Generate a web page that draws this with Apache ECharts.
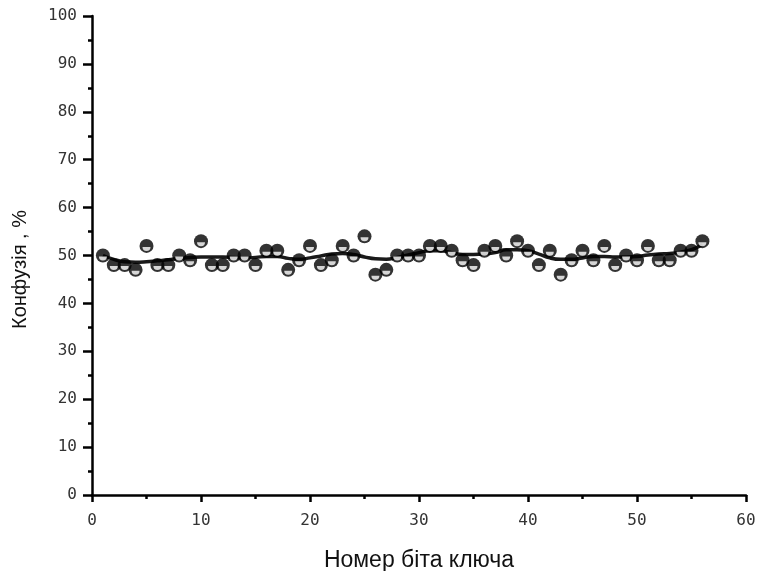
<!DOCTYPE html>
<html>
<head>
<meta charset="utf-8">
<script src="https://cdn.jsdelivr.net/npm/echarts@6/dist/echarts.min.js"></script>
<style>
  html, body { margin: 0; padding: 0; background: #fff; }
  #chart { width: 760px; height: 571px; }
</style>
</head>
<body>
<div id="chart"></div>
<script>
// measured confusion per key bit, and the smoothed trend drawn through it
var bitNumbers = [];
for (var b = 1; b <= 56; b++) bitNumbers.push(b);

var confusion = [50, 48, 48, 47, 52, 48, 48, 50, 49, 53,
                 48, 48, 50, 50, 48, 51, 51, 47, 49, 52,
                 48, 49, 52, 50, 54, 46, 47, 50, 50, 50,
                 52, 52, 51, 49, 48, 51, 52, 50, 53, 51,
                 48, 51, 46, 49, 51, 49, 52, 48, 50, 49,
                 52, 49, 49, 51, 51, 53];

var trend = [50, 49.2, 48.7, 48.6, 48.7, 48.9, 49.1, 49.4, 49.6, 49.7,
             49.7, 49.7, 49.6, 49.5, 49.6, 49.8, 49.8, 49.4, 49.2, 49.5,
             49.9, 50.3, 50.4, 50.2, 49.7, 49.3, 49.2, 49.6, 50.1, 50.6,
             51.0, 51.0, 50.6, 50.2, 50.2, 50.3, 50.6, 51.2, 51.2, 51.0,
             50.3, 49.5, 49.2, 49.2, 49.5, 49.8, 49.8, 49.7, 49.7, 49.8,
             50.1, 50.3, 50.4, 50.7, 51.2, 52.3];

function pairs(xs, ys) {
    return xs.map(function (x, i) { return [x, ys[i]]; });
}

// white half-disc drawn over each black marker (half-filled circle look)
var halfDisc = 'path://M0 0 A5 5 0 0 0 10 0 Z';

var tickFont = { fontFamily: 'DejaVu Sans Mono', fontSize: 16, color: '#333' };
var axisBlack = { color: '#000', width: 2.5 };

var chart = echarts.init(document.getElementById('chart'));

var option = {
    animation: false,
    backgroundColor: '#fff',
    grid: { left: 92, right: 14, top: 16, bottom: 76, outerBoundsMode: 'none' },
    xAxis: {
        type: 'value',
        min: 0,
        max: 60,
        interval: 10,
        name: 'Номер біта ключа',
        nameLocation: 'middle',
        nameGap: 54,
        nameTextStyle: { fontFamily: 'Liberation Sans', fontSize: 23, color: '#111' },
        axisLine: { lineStyle: axisBlack },
        axisTick: { length: 7, lineStyle: axisBlack },
        minorTick: { show: true, splitNumber: 2, length: 4, lineStyle: axisBlack },
        axisLabel: Object.assign({ margin: 18 }, tickFont),
        splitLine: { show: false }
    },
    yAxis: {
        type: 'value',
        min: 0,
        max: 100,
        interval: 10,
        name: 'Конфузія , %',
        nameLocation: 'middle',
        nameGap: 62,
        nameTextStyle: { fontFamily: 'Liberation Sans', fontSize: 20, color: '#111', padding: [0, 28, 0, 0] },
        axisLine: { show: true, lineStyle: axisBlack },
        axisTick: { show: true, length: 9, lineStyle: axisBlack },
        minorTick: { show: true, splitNumber: 2, length: 4, lineStyle: axisBlack },
        axisLabel: Object.assign({ margin: 15 }, tickFont),
        splitLine: { show: false }
    },
    series: [
        {
            name: 'trend',
            type: 'line',
            data: pairs(bitNumbers, trend),
            smooth: 0.5,
            showSymbol: false,
            lineStyle: { color: '#1a1a1a', width: 3.5 },
            z: 2
        },
        {
            name: 'confusion',
            type: 'scatter',
            data: pairs(bitNumbers, confusion),
            symbol: 'circle',
            symbolSize: 14,
            itemStyle: { color: '#000' },
            z: 3
        },
        {
            name: 'confusion-half',
            type: 'scatter',
            data: pairs(bitNumbers, confusion),
            symbol: halfDisc,
            symbolSize: [8, 4],
            symbolOffset: [0, 3],
            itemStyle: { color: '#fff' },
            silent: true,
            z: 4
        }
    ]
};

chart.setOption(option);
</script>
</body>
</html>
